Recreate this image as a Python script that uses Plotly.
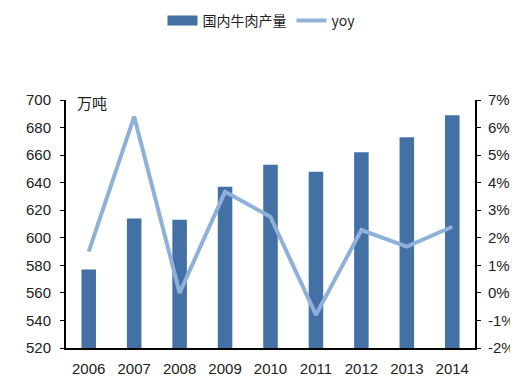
import plotly.graph_objects as go

years = ["2006", "2007", "2008", "2009", "2010", "2011", "2012", "2013", "2014"]
production = [577, 614, 613, 637, 653, 648, 662, 673, 689]
yoy = [1.5, 6.4, 0.0, 3.67, 2.76, -0.8, 2.28, 1.68, 2.4]
left_ticks = list(range(520, 701, 20))
right_ticks = list(range(-2, 8))

bar_color = "#4371A6"
line_color = "#8FB0D9"

fig = go.Figure()
fig.add_trace(go.Bar(x=years, y=production, name="国内牛肉产量", showlegend=False,
                     marker=dict(color=bar_color, line=dict(width=0)), yaxis="y"))
# legend proxy for the bar series (wide rectangle swatch)
fig.add_trace(go.Scatter(x=[None], y=[None], name="国内牛肉产量", mode="lines",
                         line=dict(color=bar_color, width=10), yaxis="y"))
fig.add_trace(go.Scatter(x=years, y=yoy, name="yoy", mode="lines",
                         line=dict(color=line_color, width=4), yaxis="y2"))

font = "Liberation Sans, Arial, sans-serif"
cjk = "Noto Sans CJK SC, " + font
# page body has an 8px margin, so the figure is 8px smaller than the window
fig.update_layout(
    width=510, height=368,
    margin=dict(l=58, r=43, t=92, b=28),
    plot_bgcolor="white", paper_bgcolor="white",
    font=dict(family=font, size=15, color="#222"),
    bargap=0.68,
    showlegend=True,
    legend=dict(orientation="h", x=0.478, xanchor="center", xref="paper",
                y=0.965, yanchor="middle", yref="container",
                font=dict(family=cjk, size=14, color="#222"),
                tracegroupgap=0),
    xaxis=dict(showline=True, linecolor="black", linewidth=2, ticks="",
               tickfont=dict(size=15), showgrid=False, automargin=False,
               ticklabelstandoff=6),
    yaxis=dict(range=[520, 700], tickvals=left_ticks, showline=True, linecolor="black",
               linewidth=2, ticks="outside", ticklen=4, tickcolor="black",
               showgrid=False, zeroline=False, automargin=False,
               ticklabelstandoff=6),
    yaxis2=dict(range=[-2, 7], tickvals=right_ticks,
                ticktext=[f"{v}%" for v in right_ticks], overlaying="y", side="right",
                showline=True, linecolor="black", linewidth=2, ticks="outside",
                ticklen=4, tickcolor="black", showgrid=False, zeroline=False,
                automargin=False, ticklabelstandoff=4),
    annotations=[dict(text="万吨", x=0.022, xref="paper", y=0.99, yref="paper",
                      xanchor="left", yanchor="middle", showarrow=False,
                      font=dict(family=cjk, size=15, color="#222"))],
)
fig.write_html("out.html")
